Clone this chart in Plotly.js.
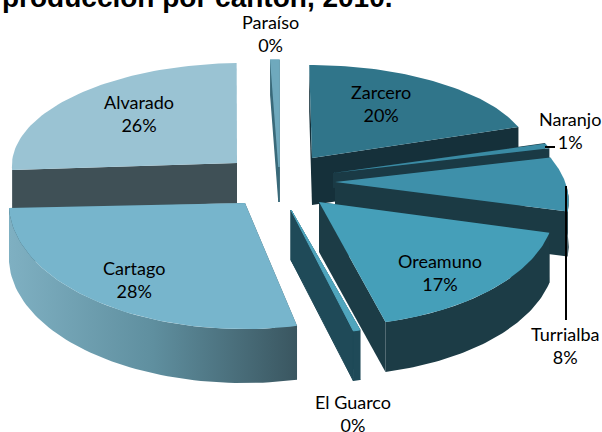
<!DOCTYPE html>
<html><head><meta charset="utf-8">
<script src="https://cdn.plot.ly/plotly-3.0.1.min.js"></script>
<style>html,body{margin:0;padding:0;background:#fff}</style></head>
<body><div id="chart" style="width:602px;height:432px"></div>
<script>
// Data (clockwise from 12 o'clock)
const cantones = ["Zarcero","Naranjo","Turrialba","Oreamuno","El Guarco","Cartago","Alvarado","Paraíso"];
const valores  = [19.6, 1.0, 7.9, 17.0, 0.45, 28.0, 25.7, 0.45];
const tituloTexto = "producción por cantón, 2010.";

// Projection of each exploded slice: apex, radii, extrusion, shear, tilt, outline
const cx  = [312,333,335,319,291,245,237,279];
const cy  = [158,173,182,202,210,203,163,167];
const rx  = [220,225,232,236,245,236,225,290];
const ry  = [ 93, 90,110,124,125,126,100,107];
const dep = [ 47, 15, 45, 50, 50, 54, 40, 35];
const ske = [.03,  0,.26,  0,  0,-.066,-.06,0];
const tlt = [  0,  0,.025,.017,0,.017, 0,  0];
const lw  = [  0,  0,  0,  0,  1,  0,  0, 1.5];
const topCol  = ["#30758a","#3a8ba4","#3e90aa","#459fb9","#4fa5bd","#77b5cc","#9ac3d3","#6fa9bd"];
const sideCol = ["#15303a","#1a3a45","#1b3a44","#1c3c46","#1f4a58","#3d5b65","#3f5056","#3a6a7a"];
const labelX = [381,570,565,440,353,134,139,270];
const labelY = [103,130,345,272,413,279,113,33];

const total = valores.reduce((a,b)=>a+b,0);
const traces = [];
function pt(i,t){
  const s=Math.sin(t), c=Math.cos(t);
  return [cx[i]+rx[i]*s-ske[i]*ry[i]*c, cy[i]-ry[i]*c+tlt[i]*rx[i]*s];
}
function poly(pts,color,grad,w){
  const xs=pts.map(p=>p[0]).concat(pts[0][0]);
  const ys=pts.map(p=>p[1]).concat(pts[0][1]);
  const t={type:"scatter",mode:"lines",x:xs,y:ys,fill:"toself",fillcolor:color,
    line:{width:w||0,color:color},hoverinfo:"skip",showlegend:false};
  if(grad) t.fillgradient={type:"horizontal",colorscale:grad};
  traces.push(t);
}
function slice(i,a0,a1){
  const n=60, arc=[];
  for(let k=0;k<=n;k++){ arc.push(a0+(a1-a0)*k/n); }
  const apex=[cx[i],cy[i]], d=dep[i];
  const down=p=>[p[0],p[1]+d];
  const p0=pt(i,a0), p1=pt(i,a1);
  poly([apex,p0,down(p0),down(apex)],sideCol[i],null,lw[i]);
  poly([apex,p1,down(p1),down(apex)],sideCol[i],null,lw[i]);
  // outer wall, front half only
  const front=arc.filter(t=>Math.cos(t)<=0.02);
  if(front.length>1){
    const up=front.map(t=>pt(i,t)), lo=up.map(down).reverse();
    const grad = cantones[i]==="Cartago" ? [[0,"#7fb0c2"],[0.5,"#5f8f9f"],[1,"#3a5660"]] : null;
    poly(up.concat(lo),sideCol[i],grad);
  }
  poly([apex].concat(arc.map(t=>pt(i,t))),topCol[i],null,lw[i]);
}
// cumulative angles
const a0s=[],a1s=[]; let acc=0;
valores.forEach((v,i)=>{a0s[i]=acc/total*2*Math.PI; acc+=v; a1s[i]=acc/total*2*Math.PI;});
// painter's order, back to front
["Alvarado","Paraíso","Zarcero","Naranjo","Turrialba","Oreamuno","Cartago","El Guarco"].forEach(n=>{
  const i=cantones.indexOf(n); slice(i,a0s[i],a1s[i]);
});
// leader lines
traces.push({type:"scatter",mode:"lines",x:[545,555],y:[147,147],line:{color:"#000",width:2},hoverinfo:"skip",showlegend:false});
traces.push({type:"scatter",mode:"lines",x:[566,566],y:[186,320],line:{color:"#000",width:2},hoverinfo:"skip",showlegend:false});

const annotations = cantones.map((c,i)=>({
  x:labelX[i],y:labelY[i],xref:"x",yref:"y",showarrow:false,
  text:c+"<br>"+Math.round(valores[i]/total*100)+"%",
  font:{family:"Lato, Carlito, sans-serif",size:18,color:"#000"},align:"center"
}));
annotations.push({x:0,y:1,xref:"paper",yref:"paper",showarrow:false,xanchor:"left",yanchor:"middle",xshift:0,yshift:3,
  text:"<b>"+tituloTexto+"</b>",font:{family:"Liberation Sans, Arial, sans-serif",size:28,color:"#000"}});

Plotly.newPlot("chart",traces,{
  width:602,height:432,margin:{l:0,r:0,t:0,b:0},
  paper_bgcolor:"#fff",plot_bgcolor:"#fff",showlegend:false,
  xaxis:{range:[0,602],visible:false,fixedrange:true},
  yaxis:{range:[432,0],visible:false,fixedrange:true},
  annotations:annotations
},{displayModeBar:false,staticPlot:true});
</script></body></html>
